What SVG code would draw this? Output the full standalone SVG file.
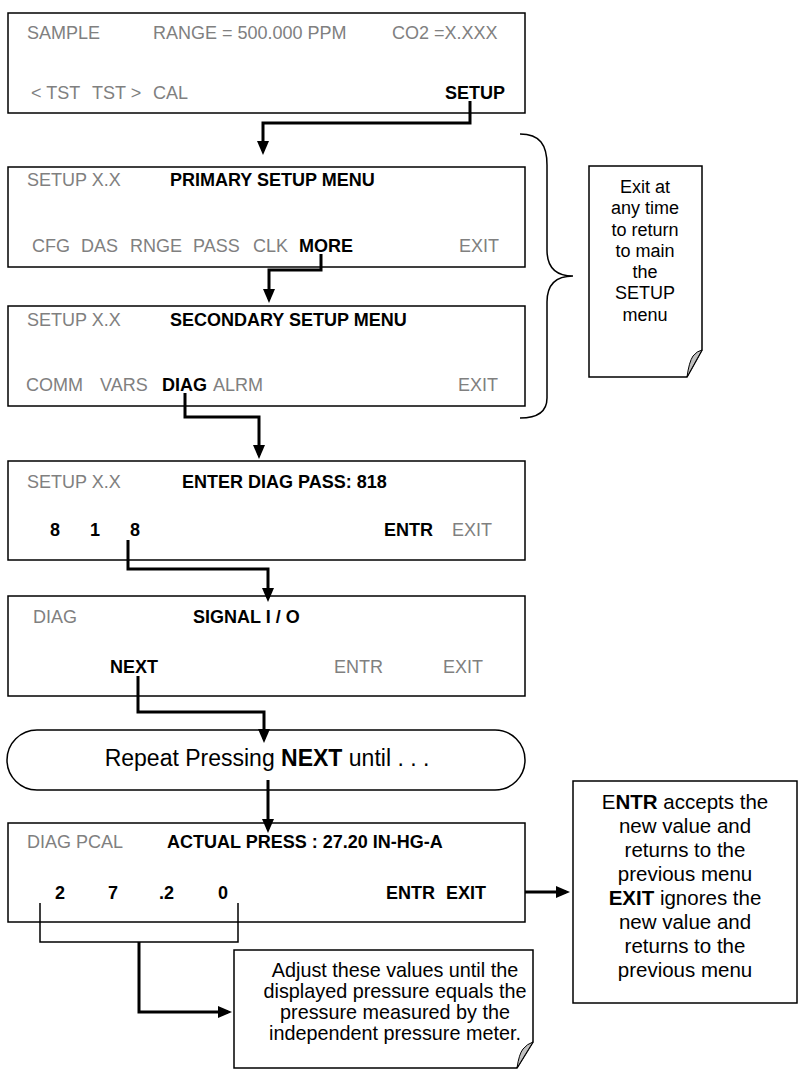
<svg xmlns="http://www.w3.org/2000/svg" width="801" height="1072" viewBox="0 0 801 1072">
<style>
.box{fill:#fff;stroke:#000;stroke-width:1.5}
.t{font-family:"Liberation Sans",Arial,sans-serif;font-size:18px}
.g{fill:#808080}
.b{fill:#000;font-weight:bold}
.con{fill:none;stroke:#000;stroke-width:3}
.thin{fill:none;stroke:#000;stroke-width:1.5}
.note{font-family:"Liberation Sans",Arial,sans-serif;fill:#000;text-anchor:middle}
.n18{font-size:18px}
.n20{font-size:20.5px}
.n19{font-size:19.8px}
.fold{fill:#c0c0c0;stroke:#000;stroke-width:1}
</style>
<defs>
<marker id="arr" markerUnits="userSpaceOnUse" markerWidth="14" markerHeight="14" refX="10" refY="7" orient="auto">
<path d="M0,1 L14,7 L0,13 Z" fill="#000"/>
</marker>
</defs>
<rect width="801" height="1072" fill="#fff"/>

<g id="box-sample">
<rect class="box" x="8" y="13" width="517" height="100"/>
<text class="t g" x="27" y="39">SAMPLE</text>
<text class="t g" x="153" y="39">RANGE = 500.000 PPM</text>
<text class="t g" x="392" y="39">CO2 =X.XXX</text>
<text class="t g" x="31" y="99">&lt; TST</text>
<text class="t g" x="92" y="99">TST &gt;</text>
<text class="t g" x="153" y="99">CAL</text>
<text class="t b" x="445" y="99">SETUP</text>
</g>

<g id="box-primary">
<rect class="box" x="8" y="167" width="517" height="100"/>
<text class="t g" x="27" y="186">SETUP X.X</text>
<text class="t b" x="170" y="186">PRIMARY SETUP MENU</text>
<text class="t g" x="32" y="252">CFG</text>
<text class="t g" x="81" y="252">DAS</text>
<text class="t g" x="130" y="252">RNGE</text>
<text class="t g" x="193" y="252">PASS</text>
<text class="t g" x="253" y="252">CLK</text>
<text class="t b" x="299" y="252">MORE</text>
<text class="t g" x="459" y="252">EXIT</text>
</g>

<g id="box-secondary">
<rect class="box" x="8" y="306" width="517" height="100"/>
<text class="t g" x="27" y="326">SETUP X.X</text>
<text class="t b" x="170" y="326">SECONDARY SETUP MENU</text>
<text class="t g" x="26" y="391">COMM</text>
<text class="t g" x="100" y="391">VARS</text>
<text class="t b" x="162" y="391">DIAG</text>
<text class="t g" x="213" y="391">ALRM</text>
<text class="t g" x="458" y="391">EXIT</text>
</g>

<g id="box-pass">
<rect class="box" x="8" y="461" width="517" height="99"/>
<text class="t g" x="27" y="488">SETUP X.X</text>
<text class="t b" x="182" y="488">ENTER DIAG PASS: 818</text>
<text class="t b" x="50" y="536">8</text>
<text class="t b" x="90" y="536">1</text>
<text class="t b" x="130" y="536">8</text>
<text class="t b" x="384" y="536">ENTR</text>
<text class="t g" x="452" y="536">EXIT</text>
</g>

<g id="box-signal">
<rect class="box" x="8" y="596" width="517" height="100"/>
<text class="t g" x="33" y="623">DIAG</text>
<text class="t b" x="193" y="623">SIGNAL I / O</text>
<text class="t b" x="110" y="673">NEXT</text>
<text class="t g" x="334" y="673">ENTR</text>
<text class="t g" x="443" y="673">EXIT</text>
</g>

<g id="pill-repeat">
<rect class="box" x="7" y="730" width="518" height="60" rx="30" ry="30"/>
<text class="note" x="267" y="766" font-size="23">Repeat Pressing <tspan font-weight="bold">NEXT</tspan> until . . .</text>
</g>

<g id="box-press">
<rect class="box" x="8" y="823" width="517" height="99"/>
<text class="t g" x="27" y="848">DIAG PCAL</text>
<text class="t b" x="167" y="848">ACTUAL PRESS : 27.20 IN-HG-A</text>
<text class="t b" x="55" y="899">2</text>
<text class="t b" x="108" y="899">7</text>
<text class="t b" x="159" y="899">.2</text>
<text class="t b" x="218" y="899">0</text>
<text class="t b" x="386" y="899">ENTR</text>
<text class="t b" x="446" y="899">EXIT</text>
</g>

<g id="note-exit">
<path class="box" d="M589,166 H702 V350 L687,377 H589 Z"/>
<path class="fold" d="M702,350 L687,377 Q689,362 693,356 Q697,351 702,350 Z"/>
<text class="note n18" x="645" y="193">Exit at</text>
<text class="note n18" x="645" y="214">any time</text>
<text class="note n18" x="645" y="236">to return</text>
<text class="note n18" x="645" y="257">to main</text>
<text class="note n18" x="645" y="278">the</text>
<text class="note n18" x="645" y="299">SETUP</text>
<text class="note n18" x="645" y="321">menu</text>
</g>

<g id="note-entr">
<rect class="box" x="573" y="781" width="224" height="222"/>
<text class="note n20" x="685" y="809">E<tspan font-weight="bold">NTR</tspan> accepts the</text>
<text class="note n20" x="685" y="833">new value and</text>
<text class="note n20" x="685" y="857">returns to the</text>
<text class="note n20" x="685" y="881">previous menu</text>
<text class="note n20" x="685" y="905"><tspan font-weight="bold">EXIT</tspan> ignores the</text>
<text class="note n20" x="685" y="929">new value and</text>
<text class="note n20" x="685" y="953">returns to the</text>
<text class="note n20" x="685" y="977">previous menu</text>
</g>

<g id="note-adjust">
<path class="box" d="M234,950 H533 V1042 L517,1068 H234 Z"/>
<path class="fold" d="M533,1042 L517,1068 Q519,1054 523,1049 Q527,1044 533,1042 Z"/>
<text class="note n19" x="395" y="977">Adjust these values until the</text>
<text class="note n19" x="395" y="998">displayed pressure equals the</text>
<text class="note n19" x="395" y="1019">pressure measured by the</text>
<text class="note n19" x="395" y="1040">independent pressure meter.</text>
</g>

<g id="brace">
<path class="thin" d="M520,134 C540,134 547,145 547,165 L547,250 C547,266 555,276 573,276 C555,276 547,286 547,302 L547,398 C547,410 540,418 520,418"/>
</g>

<g id="connectors">
<path class="con" d="M470,101 V123 H263 V151" marker-end="url(#arr)"/>
<path class="con" d="M321,254 V270 H269 V299" marker-end="url(#arr)"/>
<path class="con" d="M185,393 V417 H259 V455" marker-end="url(#arr)"/>
<path class="con" d="M128,540 V569 H268 V598" marker-end="url(#arr)"/>
<path class="con" d="M138,676 V712 H264 V739" marker-end="url(#arr)"/>
<path class="con" d="M268,780 V829" marker-end="url(#arr)"/>
<path class="con" d="M525,892 H566" marker-end="url(#arr)"/>
<path class="thin" d="M40,903 V942 H238 V903"/>
<path class="con" d="M139,942 V1012 H228" marker-end="url(#arr)"/>
</g>
</svg>
